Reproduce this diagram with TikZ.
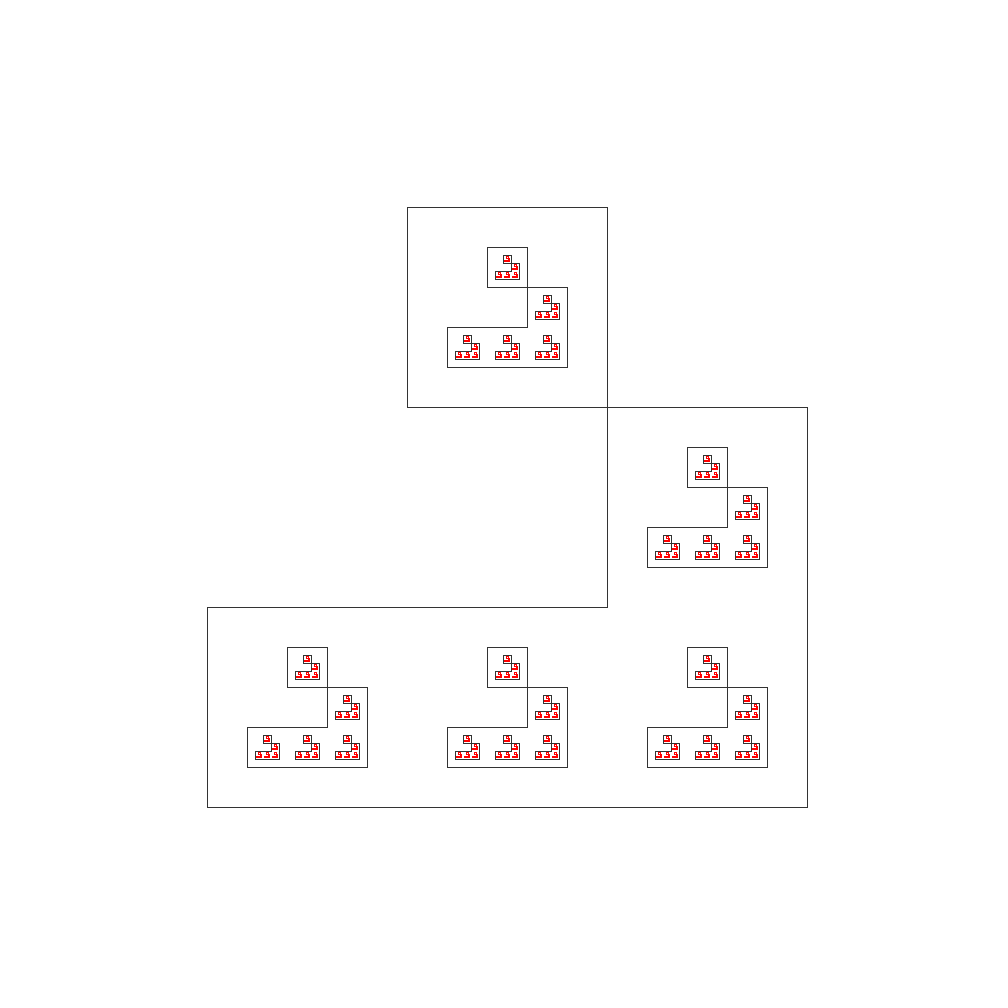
\documentclass[tikz,border=0pt]{standalone}
\usepackage{tikz}

% one glider in unit cells, top left corner at (0,0), y runs down
\newcommand{\glider}{%
\draw (1,0) rectangle (2,1);
\draw (2,1) -- (3,1) -- (3,3) -- (0,3) -- (0,2) -- (2,2) -- cycle;
}

\tikzset{
  gliderline/.style={black!80, line width=0.25pt},
  reddots/.style={red, line width=0.08pt}
}

\begin{document}
\begin{tikzpicture}[x=0.01cm, y=-0.01cm]
\useasboundingbox (0,0) rectangle (1008,1008);

\begin{scope}[gliderline, shift={(207,207)}, scale=200]
\glider
\foreach \a/\b in {1/0,2/1,0/2,1/2,2/2} {
  \begin{scope}[shift={(\a+0.2,\b+0.2)}, scale=0.2]
  \glider
  \foreach \c/\d in {1/0,2/1,0/2,1/2,2/2} {
    \begin{scope}[shift={(\c+0.2,\d+0.2)}, scale=0.2]
    \glider
    \foreach \e/\f in {1/0,2/1,0/2,1/2,2/2} {
      \begin{scope}[reddots, shift={(\e+0.2,\f+0.2)}, scale=0.2]
      \glider
      \end{scope}
    }
    \end{scope}
  }
  \end{scope}
}
\end{scope}

\end{tikzpicture}
\end{document}
